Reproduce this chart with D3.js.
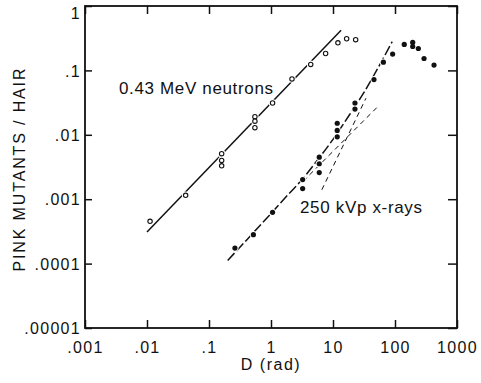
<!DOCTYPE html>
<html>
<head>
<meta charset="utf-8">
<script src="https://cdn.jsdelivr.net/npm/d3@7/dist/d3.min.js"></script>
<style>
  html, body { margin: 0; padding: 0; background: #fff; }
  svg { display: block; }
  text { font-family: "Liberation Sans", Arial, sans-serif; fill: #111; }
</style>
</head>
<body>
<svg id="chart" width="481" height="383"></svg>
<script>
// ---- data ----
const xTickValues = [0.001, 0.01, 0.1, 1, 10, 100, 1000];
const xTickLabels = [".001", ".01", ".1", "1", "10", "100", "1000"];
const yTickValues = [1, 0.1, 0.01, 0.001, 0.0001, 0.00001];
const yTickLabels = ["1", ".1", ".01", ".001", ".0001", ".00001"];

// 0.43 MeV neutrons (open circles): [dose rad, pink mutants / hair]
const neutronDose = [0.0112, 0.042, 0.16, 0.16, 0.16, 0.55, 0.55, 0.55, 1.06, 2.18, 4.37, 7.6, 12.0, 16.6, 23.2];
const neutronFreq = [0.000453, 0.00115, 0.0051, 0.0040, 0.0033, 0.0191, 0.0163, 0.0129, 0.0312, 0.0738, 0.124, 0.183, 0.268, 0.31, 0.30];

// 250 kVp x-rays (filled circles)
const xrayDose = [0.262, 0.52, 1.06, 3.24, 3.24, 6.0, 6.0, 6.0, 11.7, 11.7, 11.7, 22.6, 22.6, 45.8, 64.9, 91.6, 141, 193, 193, 238, 294, 426];
const xrayFreq = [0.000174, 0.000281, 0.000625, 0.00202, 0.00146, 0.0045, 0.00355, 0.00259, 0.0151, 0.0117, 0.0093, 0.0312, 0.0251, 0.0721, 0.134, 0.179, 0.253, 0.272, 0.235, 0.219, 0.153, 0.121];

// fitted line for neutrons
const neutronFitDose = [0.01, 13.5];
const neutronFitFreq = [0.00031, 0.42];

// fitted curve for x-rays
const xrayFitDose = [0.2, 0.5, 1, 2, 3, 5, 10, 20, 30, 50, 90];
const xrayFitFreq = [0.000112, 0.00029, 0.0006, 0.00125, 0.0019, 0.0035, 0.0085, 0.023, 0.042, 0.098, 0.28];

// short-dashed component lines
const linearCompDose = [3.3, 54];
const linearCompFreq = [0.0019, 0.028];
const quadCompDose = [6.6, 34];
const quadCompFreq = [0.0014, 0.037];

// ---- drawing ----
const svg = d3.select("#chart");
const mLeft = 85, mRight = 457, mTop = 6, mBottom = 328;

const x = d3.scaleLog().domain([0.001, 1000]).range([mLeft, mRight]);
const y = d3.scaleLog().domain([0.00001, 1]).range([mBottom, mTop]);

const zip = (a, b) => a.map((d, i) => [d, b[i]]);
const line = d3.line().x(d => x(d[0])).y(d => y(d[1]));
const curve = d3.line().x(d => x(d[0])).y(d => y(d[1])).curve(d3.curveMonotoneX);

// axes
const axB = svg.append("g").attr("transform", `translate(0,${mBottom})`)
  .call(d3.axisBottom(x).tickValues(xTickValues)
    .tickFormat((d, i) => xTickLabels[i]).tickSizeInner(-8).tickSizeOuter(0).tickPadding(14));
const axT = svg.append("g").attr("transform", `translate(0,${mTop})`)
  .call(d3.axisTop(x).tickValues(xTickValues).tickFormat("").tickSizeInner(-8).tickSizeOuter(0));
const axL = svg.append("g").attr("transform", `translate(${mLeft},0)`)
  .call(d3.axisLeft(y).tickValues(yTickValues)
    .tickFormat((d, i) => yTickLabels[i]).tickSizeInner(-7).tickSizeOuter(0).tickPadding(4));
const axR = svg.append("g").attr("transform", `translate(${mRight},0)`)
  .call(d3.axisRight(y).tickValues(yTickValues).tickFormat("").tickSizeInner(-9).tickSizeOuter(0));

[axB, axT, axL, axR].forEach(g => {
  g.select(".domain").remove();
  g.selectAll("line").attr("stroke", "#111").attr("stroke-width", 1.5);
  g.selectAll("text").style("font-family", '"Liberation Sans", Arial, sans-serif')
    .style("font-size", "16px").style("letter-spacing", "1.3px").attr("fill", "#111");
});
axL.selectAll("text").attr("dy", d => d === 1 ? "0.75em" : "0.36em");

// frame
svg.append("rect").attr("x", mLeft).attr("y", mTop)
  .attr("width", mRight - mLeft).attr("height", mBottom - mTop)
  .attr("fill", "none").attr("stroke", "#111").attr("stroke-width", 1.8);

// fit lines
svg.append("path").datum(zip(neutronFitDose, neutronFitFreq)).attr("d", line)
  .attr("fill", "none").attr("stroke", "#111").attr("stroke-width", 1.5);
svg.append("path").datum(zip(xrayFitDose, xrayFitFreq)).attr("d", curve)
  .attr("fill", "none").attr("stroke", "#111").attr("stroke-width", 1.5)
  .attr("stroke-dasharray", "10,3");
svg.append("path").datum(zip(linearCompDose, linearCompFreq)).attr("d", line)
  .attr("fill", "none").attr("stroke", "#111").attr("stroke-width", 1)
  .attr("stroke-dasharray", "5,4");
svg.append("path").datum(zip(quadCompDose, quadCompFreq)).attr("d", line)
  .attr("fill", "none").attr("stroke", "#111").attr("stroke-width", 1)
  .attr("stroke-dasharray", "5,4");

// points: neutrons (open), with small white halo breaking the line
const nPts = zip(neutronDose, neutronFreq);
svg.append("g").selectAll("circle").data(nPts).join("circle")
  .attr("cx", d => x(d[0])).attr("cy", d => y(d[1])).attr("r", 3.8).attr("fill", "#fff");
svg.append("g").selectAll("circle").data(nPts).join("circle")
  .attr("cx", d => x(d[0])).attr("cy", d => y(d[1])).attr("r", 2.2)
  .attr("fill", "#fff").attr("stroke", "#111").attr("stroke-width", 1.1);

// points: x-rays (filled)
const xPts = zip(xrayDose, xrayFreq);
svg.append("g").selectAll("circle").data(xPts).join("circle")
  .attr("cx", d => x(d[0])).attr("cy", d => y(d[1])).attr("r", 3.6).attr("fill", "#fff");
svg.append("g").selectAll("circle").data(xPts).join("circle")
  .attr("cx", d => x(d[0])).attr("cy", d => y(d[1])).attr("r", 2.6).attr("fill", "#111");

// annotations
svg.append("text").attr("x", 119).attr("y", 94).attr("textLength", 154)
  .attr("lengthAdjust", "spacing").style("font-size", "17px").text("0.43 MeV neutrons");
svg.append("text").attr("x", 300).attr("y", 212.5).attr("textLength", 122)
  .attr("lengthAdjust", "spacing").style("font-size", "17px").text("250 kVp x-rays");

// axis titles
svg.append("text").attr("x", 271).attr("y", 369.5).attr("text-anchor", "middle")
  .style("font-size", "16px").style("letter-spacing", "1.5px").text("D (rad)");
svg.append("text").attr("transform", "translate(25,170) rotate(-90)")
  .attr("text-anchor", "middle").attr("textLength", 203).attr("lengthAdjust", "spacing")
  .style("font-size", "16px").text("PINK MUTANTS / HAIR");
</script>
</body>
</html>
